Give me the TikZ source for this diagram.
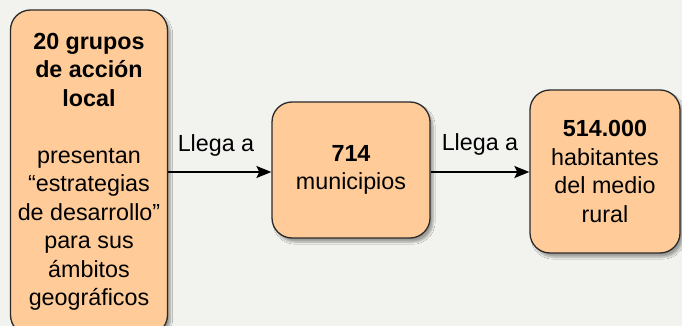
\documentclass[tikz,border=0pt]{standalone}
\usepackage{fontspec}
\setmainfont{Liberation Sans}
\usetikzlibrary{arrows.meta,shadows.blur}
\definecolor{bgc}{HTML}{F2F2EE}
\definecolor{boxc}{HTML}{FFCC99}
\definecolor{edgec}{HTML}{2A2A2A}
\tikzset{
  box/.style={draw=edgec, line width=1.3pt, fill=boxc, rounded corners=20pt,
    align=center, inner sep=0pt, font=\fontsize{23.3}{28.5}\selectfont,
    blur shadow={shadow xshift=3pt, shadow yshift=-4pt, shadow blur steps=6, shadow opacity=35}},
  conn/.style={line width=1.9pt, -{Stealth[length=15pt,width=12pt,inset=3pt]}},
  lbl/.style={font=\fontsize{23.3}{28.5}\selectfont, inner sep=0pt}
}
\begin{document}
\begin{tikzpicture}[x=1pt,y=1pt]
\useasboundingbox (0,0) rectangle (682,-326);
\clip (0,0) rectangle (682,-326);
\fill[bgc] (0,0) rectangle (682,-326);
\node[box, minimum width=157pt, minimum height=325pt] (b1) at (89,-172.5) {};
\node[lbl, align=center] (t1) at (89,-172) {\textbf{20 grupos}\\\textbf{de acción}\\\textbf{local}\\[28.5pt]presentan\\“estrategias\\de desarrollo”\\para sus\\ámbitos\\geográficos};
\node[box, minimum width=158pt, minimum height=136pt] (b2) at (351,-170) {\textbf{714}\\municipios};
\node[box, minimum width=150pt, minimum height=163pt] (b3) at (605,-171.5) {\textbf{514.000}\\habitantes\\del medio\\rural};
\coordinate (a1s) at (b1.east |- 0,-172);
\coordinate (a1e) at (b2.west |- 0,-172);
\coordinate (a2s) at (b2.east |- 0,-172);
\coordinate (a2e) at (b3.west |- 0,-172);
\draw[conn] (a1s) -- (a1e);
\draw[conn] (a2s) -- (a2e);
\node[lbl] (l1) at (216,-145) {Llega a};
\node[lbl] (l2) at (480,-144) {Llega a};
\end{tikzpicture}
\end{document}
